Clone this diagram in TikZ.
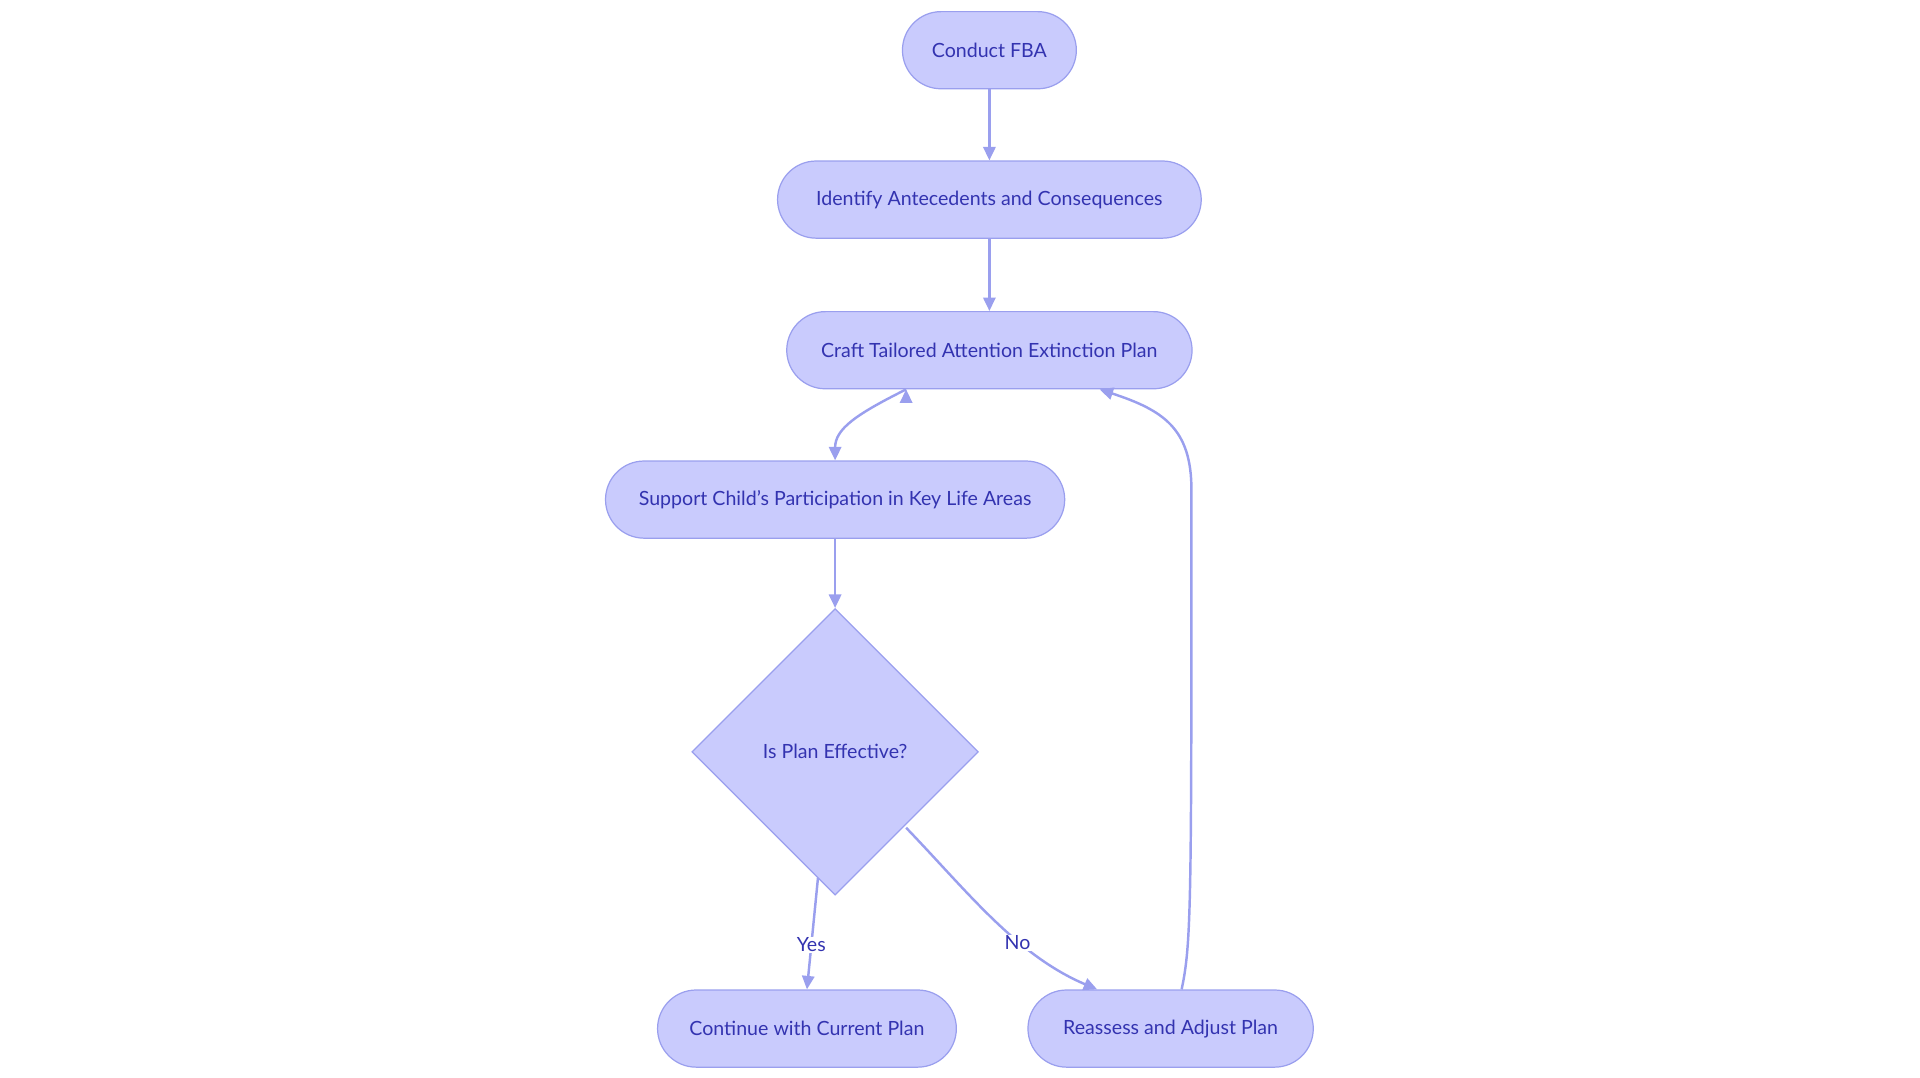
\documentclass[tikz,border=0pt]{standalone}
\usepackage{fontspec}
\setmainfont{Lato}
\usetikzlibrary{shapes.geometric,arrows.meta}
\definecolor{nfill}{HTML}{C9CBFD}
\definecolor{nline}{HTML}{9A9FEE}
\definecolor{ntext}{HTML}{3333B0}
\tikzset{
  x=1pt,y=-1pt,
  pill/.style={draw=nline,fill=nfill,line width=1pt,rounded corners=31.5pt,minimum height=63pt,text=ntext,font=\fontsize{16}{19}\selectfont,inner sep=0pt},
  dia/.style={draw=nline,fill=nfill,line width=1pt,diamond,aspect=1,minimum width=234pt,minimum height=234pt,text=ntext,font=\fontsize{16}{19}\selectfont,inner sep=0pt},
  conn/.style={draw=nline,line width=2pt,-{Triangle[length=11pt,width=10pt]}},
  lbl/.style={text=ntext,font=\fontsize{16}{19}\selectfont,fill=white,inner sep=1pt}
}
\begin{document}
\begin{tikzpicture}
\useasboundingbox (0,0) rectangle (1568,880);
\node[pill,minimum width=142pt] (a) at (808,41) {Conduct FBA};
\node[pill,minimum width=346pt] (b) at (808,163) {Identify Antecedents and Consequences};
\node[pill,minimum width=331pt] (c) at (808,286) {Craft Tailored Attention Extinction Plan};
\node[pill,minimum width=375pt] (d) at (682,408) {Support Child’s Participation in Key Life Areas};
\node[dia] (e) at (682,614) {Is Plan Effective?};
\node[pill,minimum width=244pt] (f) at (659,840) {Continue with Current Plan};
\node[pill,minimum width=233pt] (g) at (956,840) {Reassess and Adjust Plan};
\draw[conn] (a) -- (b);
\draw[conn] (b) -- (c);
\draw[conn] (c.south west) ++(98,0) coordinate (c1);
\draw[conn] (c1) .. controls (700,338) and (682,350) .. (d.north);
\draw[conn] (d) -- (e.north);
\coordinate (e1) at (668,717);
\coordinate (e2) at (740,676);
\draw[conn] (e1) -- (f.north) node[lbl,pos=0.6] {Yes};
\draw[conn] (e2) .. controls (790,728) and (830,780) .. (g.north west -| 896,0) coordinate (g0);
\node[lbl] (no) at (831,770) {No};
\coordinate (g1) at (965,808);
\draw[conn] (g1) .. controls (973,770) and (973,740) .. (973,400) .. controls (973,350) and (950,335) .. (898,318);
\end{tikzpicture}
\end{document}
